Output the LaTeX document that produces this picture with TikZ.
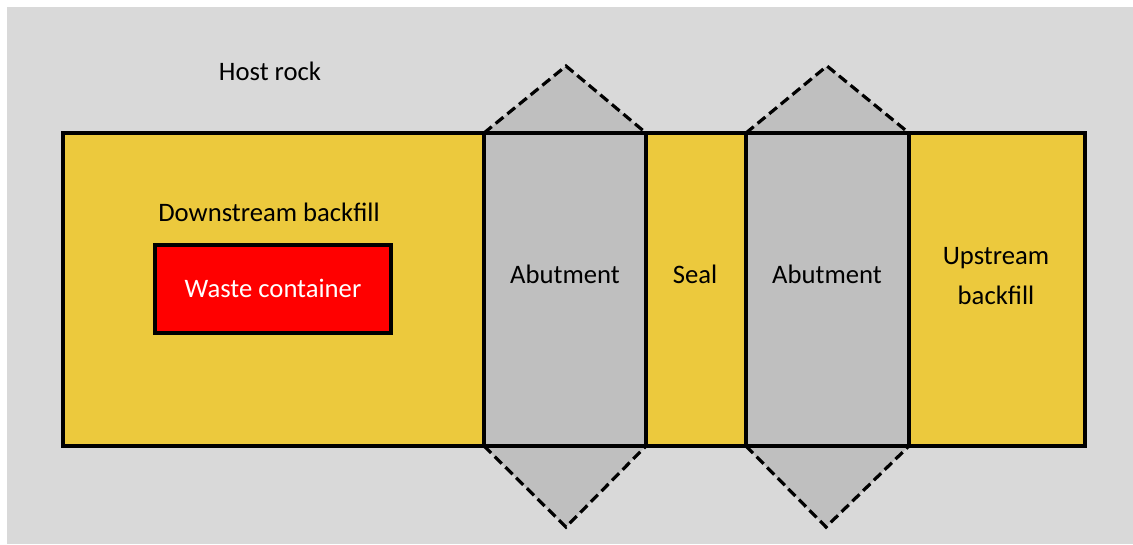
\documentclass[tikz,border=0pt]{standalone}
\usepackage{fontspec}
\setmainfont{Carlito}
\definecolor{bgray}{HTML}{D9D9D9}
\definecolor{agray}{HTML}{BFBFBF}
\definecolor{fillyel}{HTML}{ECC93D}
\tikzset{
  part/.style={draw=black, line width=2.4pt},
  wedge/.style={fill=agray},
  wedgeline/.style={draw=black, line width=2.4pt, dash pattern=on 7.5pt off 3.8pt},
  lbl/.style={font=\fontsize{20}{24}\selectfont, text=black, inner sep=0pt, align=center}
}
\begin{document}
\begin{tikzpicture}[x=0.75pt, y=-0.75pt]
\useasboundingbox (0,0) rectangle (1133,544);
\fill[bgray] (7,7) rectangle (1133,544);
% wedges (fills)
\fill[wedge] (484,133) -- (566,66) -- (646,133) -- cycle;
\fill[wedge] (746,133) -- (827,66) -- (909,133) -- cycle;
\fill[wedge] (484,446) -- (566,527) -- (646,446) -- cycle;
\fill[wedge] (746,446) -- (826,527) -- (909,446) -- cycle;
\draw[wedgeline] (484,133) -- (566,66) -- (646,133);
\draw[wedgeline] (746,133) -- (827,66) -- (909,133);
\draw[wedgeline] (484,446) -- (566,527) -- (646,446);
\draw[wedgeline] (746,446) -- (826,527) -- (909,446);
% parts
\draw[part, fill=fillyel] (63,133) rectangle (484,446);
\draw[part, fill=agray] (484,133) rectangle (646,446);
\draw[part, fill=fillyel] (646,133) rectangle (746,446);
\draw[part, fill=agray] (746,133) rectangle (909,446);
\draw[part, fill=fillyel] (909,133) rectangle (1085,446);
\draw[draw=black, line width=3pt, fill=red] (155,245) rectangle (391,333);
% labels
\node[lbl] (host) at (270,71) {Host rock};
\node[lbl] (down) at (269,212) {Downstream backfill};
\node[lbl, text=white] (waste) at (273,288) {Waste container};
\node[lbl] (ab1) at (565,274) {Abutment};
\node[lbl] (seal) at (695,274) {Seal};
\node[lbl] (ab2) at (827,274) {Abutment};
\node[lbl, align=center] (up) at (996,276) {Upstream\\[6pt]backfill};
\end{tikzpicture}
\end{document}
